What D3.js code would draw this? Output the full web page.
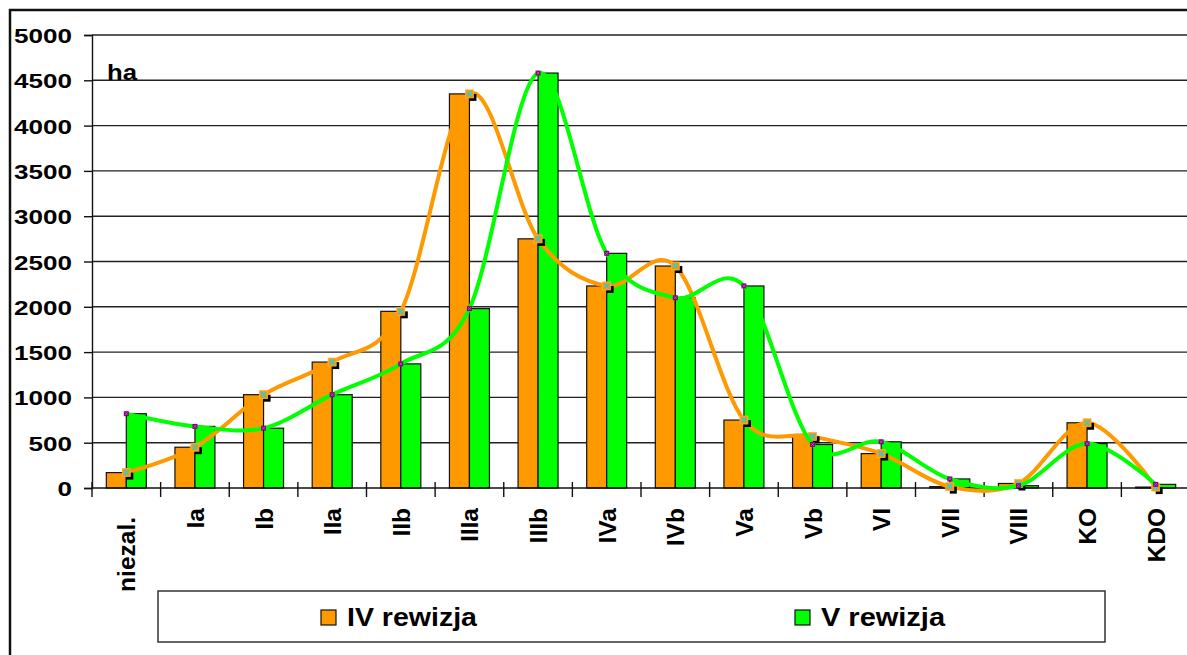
<!DOCTYPE html>
<html>
<head>
<meta charset="utf-8">
<script src="https://cdn.jsdelivr.net/npm/d3@7"></script>
<style>
  html, body { margin: 0; padding: 0; background: #fff; overflow: hidden; }
  svg { display: block; }
  text { font-family: "Liberation Sans", Arial, sans-serif; font-weight: bold; fill: #000; }
</style>
</head>
<body>
<svg id="chart" width="1187" height="655"></svg>
<script>
const categories = ["niezal.", "Ia", "Ib", "IIa", "IIb", "IIIa", "IIIb", "IVa", "IVb", "Va", "Vb", "VI", "VII", "VIII", "KO", "KDO"];
const seriesNames = ["IV rewizja", "V rewizja"];
const rew4 = [170, 450, 1030, 1390, 1950, 4350, 2750, 2230, 2450, 750, 570, 380, 15, 50, 720, 10];
const rew5 = [820, 680, 660, 1030, 1370, 1980, 4580, 2590, 2100, 2230, 480, 510, 100, 25, 490, 40];
const yTicks = [0, 500, 1000, 1500, 2000, 2500, 3000, 3500, 4000, 4500, 5000];
const colors = ["#FF9900", "#00FF00"];
const unitLabel = "ha";

const svg = d3.select("#chart");

// outer frame
svg.append("path").attr("d", "M10,655 L10,10 L1187,10")
  .attr("fill", "none").attr("stroke", "#111").attr("stroke-width", 2.5);

const x = d3.scaleBand().domain(categories).range([92, 1190]).padding(0);
const y = d3.scaleLinear().domain([0, 5000]).range([488, 35]);
const xs = d3.scaleBand().domain(seriesNames).range([-20, 20]).padding(0);
const cx = c => x(c) + x.bandwidth() / 2;

// gridlines
svg.append("g").selectAll("line").data(yTicks.filter(t => t > 0)).join("line")
  .attr("x1", 92).attr("x2", 1190)
  .attr("y1", d => y(d)).attr("y2", d => y(d))
  .attr("stroke", "#222").attr("stroke-width", 1.4);

// y axis
const yAxis = d3.axisLeft(y).tickValues(yTicks).tickSize(8).tickPadding(12).tickFormat(d3.format("d"));
const gy = svg.append("g").attr("transform", "translate(92,0)").call(yAxis);
gy.select(".domain").attr("stroke", "#111").attr("stroke-width", 1.4);
gy.selectAll(".tick line").attr("stroke", "#111").attr("stroke-width", 1.4);
gy.selectAll(".tick text")
  .attr("font-size", 21).attr("x", -20).attr("dy", "0.36em")
  .attr("font-family", "Liberation Sans, Arial, sans-serif").attr("font-weight", "bold")
  .attr("textLength", d => String(d).length * 14.5).attr("lengthAdjust", "spacingAndGlyphs");

// unit label
svg.append("text").attr("x", 107).attr("y", 80).attr("font-size", 22)
  .attr("textLength", 30).attr("lengthAdjust", "spacingAndGlyphs").text(unitLabel);

// bars
const data = categories.map((c, i) => ({ c, v: [rew4[i], rew5[i]] }));
const groups = svg.append("g").selectAll("g").data(data).join("g")
  .attr("transform", d => `translate(${cx(d.c)},0)`);
groups.selectAll("rect").data(d => d.v.map((v, k) => ({ v, k }))).join("rect")
  .attr("x", d => xs(seriesNames[d.k]))
  .attr("width", xs.bandwidth())
  .attr("y", d => y(d.v))
  .attr("height", d => y(0) - y(d.v))
  .attr("fill", d => colors[d.k])
  .attr("stroke", "#111").attr("stroke-width", 1.2);

// x axis
const gx = svg.append("g").attr("transform", "translate(0,488)");
gx.append("line").attr("x1", 92).attr("x2", 1190).attr("y1", 0).attr("y2", 0)
  .attr("stroke", "#111").attr("stroke-width", 1.4);
gx.selectAll("line.tk").data(categories).join("line").attr("class", "tk")
  .attr("x1", d => x(d)).attr("x2", d => x(d)).attr("y1", -6).attr("y2", 9)
  .attr("stroke", "#111").attr("stroke-width", 1.4);
gx.selectAll("text").data(categories).join("text")
  .attr("transform", d => `translate(${cx(d) + 9},${d === "niezal." ? 29 : 20}) rotate(-90)`)
  .attr("text-anchor", "end").attr("font-size", 24.5).text(d => d);

// smooth lines
const line = d3.line().x(d => d[0]).y(d => d[1]).curve(d3.curveCardinal.tension(0));
const pts4 = categories.map((c, i) => [cx(c), y(rew4[i])]);
const pts5 = categories.map((c, i) => [cx(c), y(rew5[i])]);

svg.append("path").attr("d", line(pts4)).attr("fill", "none")
  .attr("stroke", colors[0]).attr("stroke-width", 4).attr("stroke-linejoin", "round");
// orange markers: shadow, square, cyan x
const m4 = svg.append("g").selectAll("g").data(pts4).join("g")
  .attr("transform", d => `translate(${d[0]},${d[1]})`);
m4.append("rect").attr("x", 0).attr("y", 0).attr("width", 7).attr("height", 7).attr("fill", "#000");
m4.append("rect").attr("x", -4).attr("y", -4).attr("width", 8).attr("height", 8).attr("fill", "#FF9900")
  .attr("stroke", "#FFB040").attr("stroke-width", 0.8);
m4.append("path").attr("d", "M-2.5,-2.5L2.5,2.5M-2.5,2.5L2.5,-2.5").attr("stroke", "#33CCCC").attr("stroke-width", 1.6);

svg.append("path").attr("d", line(pts5)).attr("fill", "none")
  .attr("stroke", colors[1]).attr("stroke-width", 4).attr("stroke-linejoin", "round");
const m5 = svg.append("g").selectAll("g").data(pts5).join("g")
  .attr("transform", d => `translate(${d[0]},${d[1]})`);
m5.append("rect").attr("x", -2.5).attr("y", -2.5).attr("width", 5).attr("height", 5).attr("fill", "#800080");
m5.append("path").attr("d", "M-1.5,-1.5L1.5,1.5M-1.5,1.5L1.5,-1.5").attr("stroke", "#C060C0").attr("stroke-width", 0.8);

// legend
const lg = svg.append("g");
lg.append("rect").attr("x", 158).attr("y", 591).attr("width", 947).attr("height", 51)
  .attr("fill", "#fff").attr("stroke", "#333").attr("stroke-width", 1.5);
const legendItems = [
  { name: seriesNames[0], color: colors[0], sx: 321, tx: 347, tl: 130 },
  { name: seriesNames[1], color: colors[1], sx: 795, tx: 821, tl: 124 }
];
legendItems.forEach(it => {
  lg.append("rect").attr("x", it.sx).attr("y", 610).attr("width", 15).attr("height", 15)
    .attr("fill", it.color).attr("stroke", "#111").attr("stroke-width", 1.2);
  lg.append("text").attr("x", it.tx).attr("y", 626).attr("font-size", 25)
    .attr("textLength", it.tl).attr("lengthAdjust", "spacingAndGlyphs").text(it.name);
});
</script>
</body>
</html>
